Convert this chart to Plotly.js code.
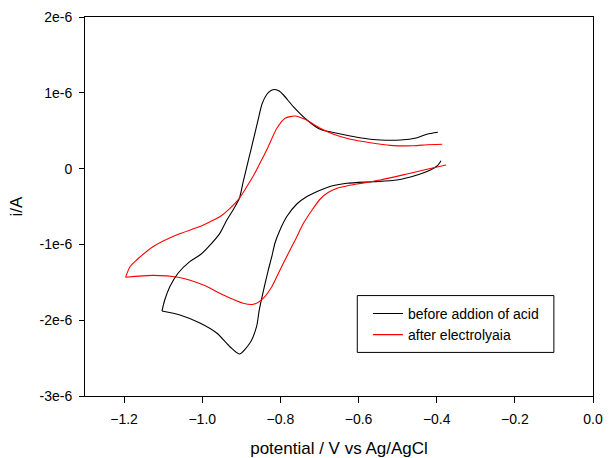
<!DOCTYPE html>
<html>
<head>
<meta charset="utf-8">
<script src="https://cdn.plot.ly/plotly-3.0.1.min.js"></script>
<style>
html,body{margin:0;padding:0;background:#fff;}
#chart{width:609px;height:458px;}
</style>
</head>
<body>
<div id="chart"></div>
<script>
// Potential (V vs Ag/AgCl) and current (units of 1e-6 A)
// "before addion of acid" - cathodic sweep (from -0.4 V towards -1.1 V)
var beforeDownX = [-0.389,-0.399,-0.416,-0.450,-0.502,-0.562,-0.630,-0.673,-0.703,-0.732,-0.758,-0.784,-0.801,-0.814,-0.822,-0.831,-0.839,-0.854,-0.861,-0.878,-0.905,-0.929,-0.963,-1.006,-1.057,-1.103];
var beforeDownY = [0.104,0.034,-0.018,-0.084,-0.150,-0.173,-0.194,-0.236,-0.296,-0.368,-0.467,-0.635,-0.810,-0.985,-1.162,-1.338,-1.513,-1.865,-2.086,-2.301,-2.446,-2.350,-2.169,-2.037,-1.931,-1.879];
// "before addion of acid" - anodic return sweep
var beforeUpX = [-1.103,-1.096,-1.083,-1.062,-1.032,-1.006,-0.980,-0.955,-0.937,-0.921,-0.905,-0.895,-0.882,-0.869,-0.857,-0.847,-0.835,-0.824,-0.814,-0.803,-0.792,-0.767,-0.732,-0.698,-0.655,-0.621,-0.587,-0.544,-0.493,-0.450,-0.425,-0.397];
var beforeUpY = [-1.879,-1.734,-1.558,-1.381,-1.228,-1.140,-1.008,-0.854,-0.678,-0.546,-0.392,-0.170,0.107,0.384,0.644,0.852,0.978,1.030,1.044,1.024,0.971,0.817,0.641,0.518,0.466,0.430,0.400,0.377,0.377,0.408,0.453,0.479];
// "after electrolyaia" - cathodic sweep
var afterDownX = [-0.376,-0.425,-0.476,-0.544,-0.604,-0.655,-0.678,-0.698,-0.719,-0.741,-0.762,-0.784,-0.805,-0.822,-0.844,-0.869,-0.895,-0.946,-0.997,-1.062,-1.126,-1.196];
var afterDownY = [0.047,-0.009,-0.071,-0.150,-0.203,-0.260,-0.315,-0.401,-0.546,-0.722,-0.942,-1.162,-1.381,-1.558,-1.711,-1.790,-1.777,-1.668,-1.536,-1.434,-1.408,-1.434];
// "after electrolyaia" - anodic return sweep
var afterUpX = [-1.196,-1.185,-1.168,-1.126,-1.066,-1.006,-0.980,-0.955,-0.929,-0.905,-0.886,-0.869,-0.852,-0.835,-0.809,-0.788,-0.762,-0.737,-0.698,-0.664,-0.621,-0.570,-0.519,-0.459,-0.425,-0.386];
var afterUpY = [-1.434,-1.294,-1.206,-1.030,-0.876,-0.765,-0.701,-0.635,-0.524,-0.392,-0.239,-0.095,0.074,0.245,0.532,0.664,0.694,0.650,0.532,0.453,0.387,0.342,0.307,0.302,0.315,0.321];

var seriesNames = ["before addion of acid", "after electrolyaia"];
var yTickVals = [2, 1, 0, -1, -2, -3];
var yTickText = ["2e-6", "1e-6", "0", "-1e-6", "-2e-6", "-3e-6"];
var xTickVals = [-1.2, -1.0, -0.8, -0.6, -0.4, -0.2, 0.0];

function scale(arr){ return arr.map(function(v){ return v * 1e-6; }); }

var FONT = "Liberation Sans, Arial, sans-serif";

function ln(color){ return {color: color, width: 1.1, shape: "spline", smoothing: 0.7}; }

var traces = [
  {x: beforeDownX, y: scale(beforeDownY), mode: "lines", name: seriesNames[0], legendgroup: "b", line: ln("#000000")},
  {x: afterDownX, y: scale(afterDownY), mode: "lines", name: seriesNames[1], legendgroup: "a", line: ln("#ff0000")},
  {x: beforeUpX, y: scale(beforeUpY), mode: "lines", name: seriesNames[0], legendgroup: "b", showlegend: false, line: ln("#000000")},
  {x: afterUpX, y: scale(afterUpY), mode: "lines", name: seriesNames[1], legendgroup: "a", showlegend: false, line: ln("#ff0000")}
];

var layout = {
  width: 609, height: 458,
  margin: {l: 85, r: 16, t: 17, b: 62},
  paper_bgcolor: "#ffffff", plot_bgcolor: "#ffffff",
  font: {family: FONT, size: 14, color: "#000000"},
  showlegend: true,
  legend: {
    x: 0.557, y: 0.259, xanchor: "left", yanchor: "top",
    borderwidth: 0, bgcolor: "rgba(0,0,0,0)",
    font: {family: FONT, size: 14, color: "#000000"},
    tracegroupgap: 0
  },
  shapes: [
    {type: "rect", xref: "paper", yref: "paper", x0: 0.536, x1: 0.923, y0: 0.115, y1: 0.265,
     line: {color: "#000000", width: 1}, fillcolor: "rgba(0,0,0,0)", layer: "above"}
  ],
  xaxis: {
    range: [-1.3, 0.0], tickvals: xTickVals, tickformat: ".1f",
    ticks: "outside", ticklen: 6, tickwidth: 1, tickcolor: "#000000",
    showline: true, linecolor: "#000000", linewidth: 1, mirror: true,
    showgrid: false, zeroline: false, ticklabelstandoff: 4,
    tickfont: {family: FONT, size: 14, color: "#000000"},
    title: {text: "potential / V vs Ag/AgCl", font: {family: FONT, size: 17, color: "#000000"}, standoff: 18}
  },
  yaxis: {
    range: [-3e-6, 2e-6], tickvals: scale(yTickVals), ticktext: yTickText,
    ticks: "outside", ticklen: 5, tickwidth: 1, tickcolor: "#000000",
    showline: true, linecolor: "#000000", linewidth: 1, mirror: true,
    showgrid: false, zeroline: false, ticklabelstandoff: 4,
    tickfont: {family: FONT, size: 14, color: "#000000"},
    title: {text: "i/A", font: {family: FONT, size: 17, color: "#000000"}, standoff: 12}
  }
};

Plotly.newPlot("chart", traces, layout, {displayModeBar: false, staticPlot: true});
</script>
</body>
</html>
